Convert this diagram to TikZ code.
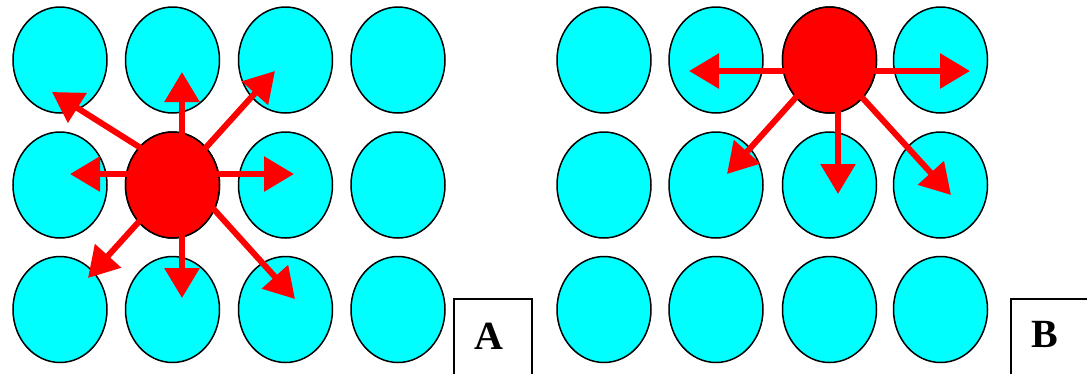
\documentclass[tikz,border=0pt]{standalone}
\usepackage{fontspec}
\setmainfont{Liberation Serif}
\usetikzlibrary{shapes.geometric,arrows.meta}
\definecolor{ballcyan}{HTML}{00FFFF}
\definecolor{ballred}{HTML}{FF0000}
\tikzset{
  cyanball/.style={ellipse,draw=black,line width=1.5pt,fill=ballcyan,minimum width=94pt,minimum height=106pt,inner sep=0pt},
  redball/.style={cyanball,fill=ballred},
  jump/.style={draw=ballred,line width=6pt,-{Triangle[length=30pt,width=34pt]}},
  labelbox/.style={draw=black,line width=1.5pt},
  labeltext/.style={font=\fontsize{40}{40}\selectfont\bfseries,anchor=base,inner sep=0pt}
}
\begin{document}
\begin{tikzpicture}[x=1pt,y=-1pt]
\useasboundingbox (0,0) rectangle (1087,373);
\clip (0,0) rectangle (1087,373);
% Panel A
\foreach \c/\x in {1/60,2/172.5,3/285.5,4/398}{
  \foreach \r/\y in {1/60,2/185,3/309.5}{
    \node[cyanball] (a\c\r) at (\x,\y) {};
  }
}
\node[redball] (redA) at (172.5,185) {};
\coordinate (oA) at (182,174);
\coordinate (tAu) at (182,72);
\coordinate (tAl) at (70,174);
\coordinate (tAr) at (294,174);
\coordinate (tAul) at (52,92);
\coordinate (tAur) at (275,71);
\coordinate (tAdl) at (88,278);
\coordinate (tAd) at (182,298);
\coordinate (tAdr) at (295,299);
\foreach \t in {tAu,tAl,tAr,tAul,tAur,tAdl,tAd,tAdr}{
  \draw[jump] (oA) -- (\t);
}
% Panel B
\foreach \c/\x in {1/604,2/716,3/829.5,4/940.5}{
  \foreach \r/\y in {1/60,2/185,3/309.5}{
    \node[cyanball] (b\c\r) at (\x,\y) {};
  }
}
\node[redball] (redB) at (829.5,60) {};
\coordinate (oB) at (838,71);
\coordinate (oBc) at (829.5,60);
\coordinate (tBl) at (689,71);
\coordinate (tBr) at (970,71);
\coordinate (tBd) at (838,194);
\coordinate (tBdl) at (727,174);
\coordinate (tBdr) at (951,195);
\foreach \t in {tBl,tBr,tBd,tBdr}{
  \draw[jump] (oB) -- (\t);
}
\draw[jump] (oBc) -- (tBdl);
% Label boxes
\node[labelbox,minimum width=78pt,minimum height=90pt,anchor=north west,inner sep=0pt] (boxA) at (453,298) {};
\node[labeltext] (labA) at (489,349) {A};
\node[labelbox,minimum width=90pt,minimum height=90pt,anchor=north west,inner sep=0pt] (boxB) at (1010,298) {};
\node[labeltext] (labB) at (1045,347) {B};
\end{tikzpicture}
\end{document}
